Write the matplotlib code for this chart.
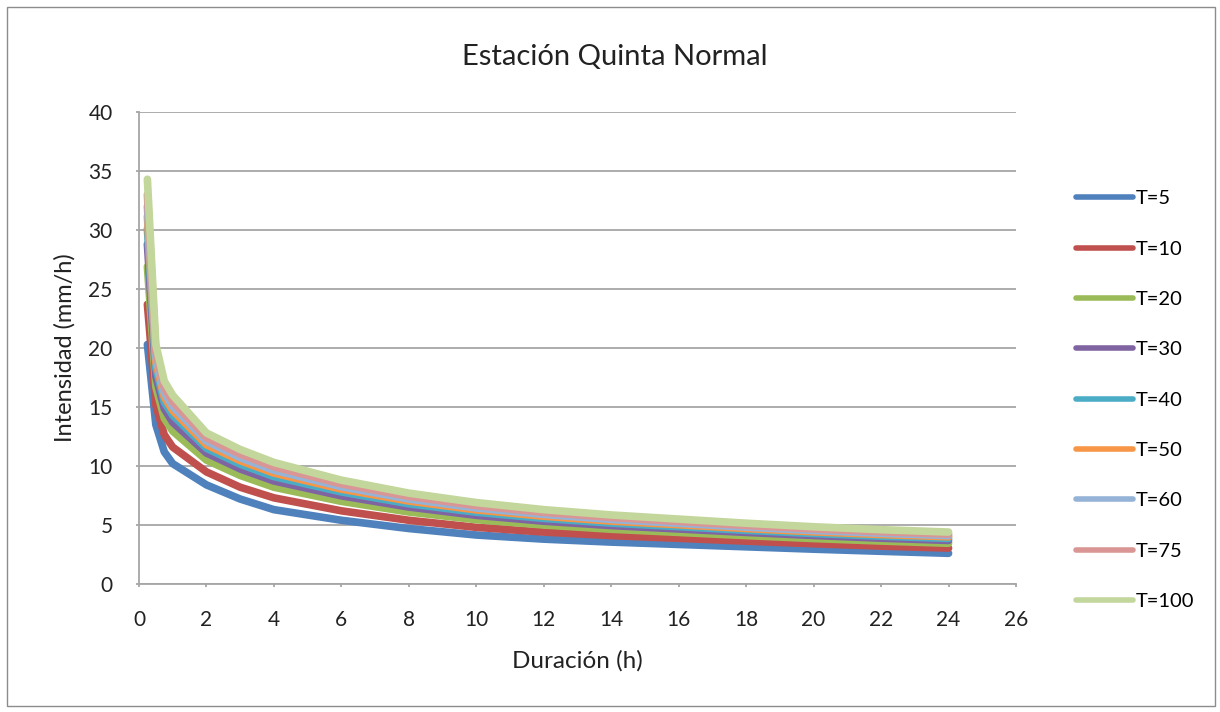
import matplotlib
matplotlib.use("Agg")
import matplotlib.pyplot as plt
from matplotlib.patches import Rectangle

plt.rcParams['font.family'] = ['Lato', 'DejaVu Sans']

# duraciones (h)
duracion = [0.25, 0.5, 0.75, 1, 2, 3, 4, 6, 8, 10, 12, 14, 16, 18, 20, 22, 24]

# intensidades (mm/h) por periodo de retorno
t5 = [20.3, 13.5, 11.2, 10.2, 8.4, 7.2, 6.3, 5.4, 4.7, 4.15, 3.8, 3.55, 3.35, 3.15, 2.95, 2.77, 2.6]
t10 = [23.7, 15.15, 12.65, 11.6, 9.5, 8.2, 7.3, 6.2, 5.4, 4.8, 4.4, 4.1, 3.87, 3.63, 3.41, 3.21, 3.04]
t20 = [26.9, 16.7, 14.05, 12.95, 10.5, 9.2, 8.2, 7.0, 6.1, 5.45, 5.0, 4.64, 4.37, 4.1, 3.85, 3.64, 3.45]
t30 = [28.8, 17.6, 14.85, 13.7, 11.1, 9.75, 8.73, 7.47, 6.52, 5.82, 5.32, 4.95, 4.66, 4.37, 4.11, 3.88, 3.69]
t40 = [30.1, 18.3, 15.4, 14.3, 11.5, 10.15, 9.1, 7.8, 6.8, 6.08, 5.56, 5.16, 4.86, 4.55, 4.28, 4.05, 3.86]
t50 = [31.15, 18.8, 15.85, 14.7, 11.8, 10.45, 9.4, 8.04, 7.03, 6.28, 5.74, 5.33, 5.02, 4.7, 4.42, 4.19, 4.0]
t60 = [32.0, 19.2, 16.2, 15.05, 12.1, 10.7, 9.64, 8.24, 7.2, 6.44, 5.89, 5.47, 5.14, 4.82, 4.53, 4.3, 4.1]
t75 = [33.0, 19.7, 16.65, 15.45, 12.4, 11.0, 9.93, 8.48, 7.42, 6.64, 6.07, 5.64, 5.3, 4.96, 4.67, 4.43, 4.23]
t100 = [34.3, 20.3, 17.2, 16.0, 12.8, 11.4, 10.3, 8.8, 7.7, 6.9, 6.3, 5.85, 5.5, 5.15, 4.85, 4.6, 4.4]

series = [t5, t10, t20, t30, t40, t50, t60, t75, t100]
etiquetas = ["T=5", "T=10", "T=20", "T=30", "T=40", "T=50", "T=60", "T=75", "T=100"]
colores = ["#4F81BD", "#C0504D", "#9BBB59", "#8064A2", "#4BACC6",
           "#F79646", "#95B3D7", "#D99694", "#C3D69B"]

fig = plt.figure(figsize=(12.2, 7.12), dpi=100)
ax = fig.add_axes([0.1139, 0.1798, 0.7189, 0.6629])

for ys, lab, col in zip(series, etiquetas, colores):
    ax.plot(duracion, ys, color=col, lw=5.5, label=lab,
            solid_capstyle='round', solid_joinstyle='round')

ax.set_xlim(0, 26)
ax.set_ylim(0, 40)
ax.set_xticks(range(0, 27, 2))
ax.set_yticks(range(0, 41, 5))
ax.yaxis.grid(True, color="#a6a6a6", lw=1.3)
ax.set_axisbelow(True)
for s in ["top", "right"]:
    ax.spines[s].set_visible(False)
for s in ["left", "bottom"]:
    ax.spines[s].set_color("#a6a6a6")
    ax.spines[s].set_linewidth(1.3)
ax.tick_params(colors="#a6a6a6", labelcolor="#222222", labelsize=15, length=2, width=1.3)
ax.tick_params(axis="y", pad=17)
ax.tick_params(axis="x", pad=17)

# titulo centrado en la figura
fig.text(615 / 1220, 1 - 57 / 712, "Estación Quinta Normal", fontsize=21,
         ha="center", va="center", color="#222222")
ax.set_xlabel("Duración (h)", fontsize=17.5, labelpad=14, color="#222222")
ax.set_ylabel("Intensidad (mm/h)", fontsize=17, labelpad=9, color="#222222")

ax.legend(loc="upper left", bbox_to_anchor=(1.0684, 0.834), frameon=False,
          fontsize=14.5, handlelength=2.84, handletextpad=0.15, labelspacing=1.65,
          borderaxespad=0, borderpad=0)
for line in ax.get_legend().get_lines():
    line.set_linewidth(4)

fig.patches.append(Rectangle((0.006, 0.008), 0.99, 0.982, transform=fig.transFigure,
                             fill=False, edgecolor="#8c8c8c", lw=1.0))

fig.savefig("out.png", dpi=100)
